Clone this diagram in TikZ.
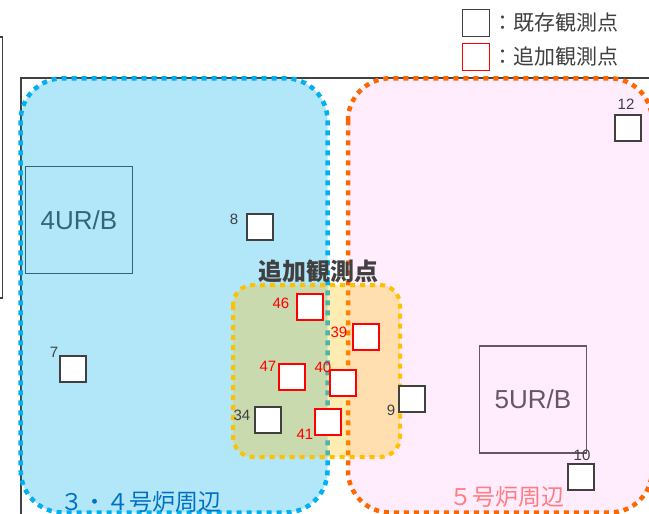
\documentclass[tikz,border=0pt]{standalone}
\usepackage{fontspec}
\setmainfont{Liberation Sans}
\newfontfamily\jpfont{Noto Sans CJK JP}
\usetikzlibrary{positioning}
\definecolor{ink}{HTML}{404040}
\definecolor{urgray}{HTML}{474747}
\definecolor{blueline}{HTML}{00B0F0}
\definecolor{orangeline}{HTML}{FF6600}
\definecolor{yellowline}{HTML}{FFC000}
\definecolor{pinkfill}{HTML}{FF99F5}
\definecolor{addred}{HTML}{FF0000}
\definecolor{bluetext}{HTML}{0070C0}
\definecolor{salmon}{HTML}{FF7C80}

\tikzset{
  zone/.style={line width=4.5pt,dash pattern=on 5pt off 5pt,rounded corners=42pt},
  oldpt/.style={draw=ink,fill=white,line width=1.6pt,minimum size=26pt,inner sep=0pt},
  newpt/.style={oldpt,draw=addred},
  numtxt/.style={inner sep=0pt,font=\fontsize{15}{15}\selectfont,text=ink},
  newnum/.style={numtxt,text=addred},
  urbox/.style={draw=urgray,line width=1.5pt,text=urgray,minimum width=107pt,minimum height=107pt,inner sep=0pt,font=\fontsize{26}{26}\selectfont},
  jptxt/.style={inner sep=0pt,font=\jpfont\fontsize{#1}{#1}\selectfont},
}

\begin{document}
\begin{tikzpicture}[x=1pt,y=-1pt]
\useasboundingbox (0,0) rectangle (649,514);
\clip (0,0) rectangle (649,514);

% site frames
\draw[ink,line width=1.5pt] (0,37) -- (2.5,37) -- (2.5,298) -- (0,298);
\draw[ink,line width=2pt] (20.7,540) -- (20.7,78.3) -- (680,78.3);

% reactor buildings
\node[urbox] (ur4) at (79,220) {4UR/B};
\node[urbox] (ur5) at (533,399.5) {5UR/B};

% areas
\fill[blueline,opacity=0.3,rounded corners=42pt] (20.7,78.3) rectangle (327.5,512.5);
\draw[zone,draw=blueline] (20.7,78.3) rectangle (327.5,512.5);
\fill[pinkfill,opacity=0.18,rounded corners=42pt] (348,78.3) rectangle (652,512.5);
\draw[zone,draw=orangeline] (348,78.3) rectangle (652,512.5);
\fill[yellowline,opacity=0.3,rounded corners=20pt] (233,285) rectangle (400,457);
\draw[zone,draw=yellowline,line width=4pt,rounded corners=20pt] (233,285) rectangle (400,457);

% existing points
\node[oldpt] (p7) at (73,369) {};
\node[oldpt] (p8) at (260,227) {};
\node[oldpt] (p9) at (412,399) {};
\node[oldpt] (p10) at (581,477) {};
\node[oldpt] (p12) at (628,128) {};
\node[oldpt] (p34) at (268,420) {};
\node[numtxt] (n7) at (54,352) {7};
\node[numtxt] (n8) at (234,219) {8};
\node[numtxt] (n9) at (391,410) {9};
\node[numtxt] (n10) at (582,455) {10};
\node[numtxt] (n12) at (626,104) {12};
\node[numtxt] (n34) at (242,415) {34};

% added points
\node[newpt] (p39) at (366,337) {};
\node[newpt] (p40) at (343,383) {};
\node[newpt] (p41) at (328,422) {};
\node[newpt] (p46) at (310,307) {};
\node[newpt] (p47) at (292,377) {};
\node[newnum] (n39) at (339,332) {39};
\node[newnum] (n40) at (323,367) {40};
\node[newnum] (n41) at (305,434) {41};
\node[newnum] (n46) at (281,303) {46};
\node[newnum] (n47) at (268,366) {47};

% area names
\node[jptxt=24,text=ink] (addttl) at (318,271) {\bfseries 追加観測点};
\node[jptxt=23,text=bluetext] (zone34) at (141,502) {３・４号炉周辺};
\node[jptxt=23,text=salmon] (zone5) at (507,497) {５号炉周辺};

% legend
\node[oldpt,minimum size=27pt] (keyold) at (476,23) {};
\node[newpt,minimum size=27pt] (keynew) at (476,57) {};
\node[jptxt=21,text=ink,right=1.5pt of keyold] (keyoldtxt) {：既存観測点};
\node[jptxt=21,text=ink,right=1.5pt of keynew] (keynewtxt) {：追加観測点};
\end{tikzpicture}
\end{document}
